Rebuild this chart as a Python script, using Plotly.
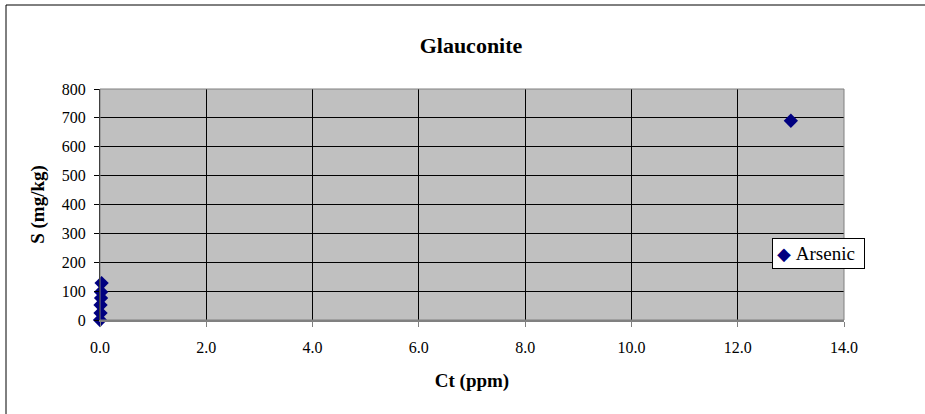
import plotly.graph_objects as go

ct_ppm = [0.0, 0.01, 0.01, 0.02, 0.02, 0.03, 13.0]
s_mgkg = [0, 24, 52, 76, 97, 128, 690]
series_name = "Arsenic"
x_ticks = [0, 2, 4, 6, 8, 10, 12, 14]
y_ticks = [0, 100, 200, 300, 400, 500, 600, 700, 800]

font = "Liberation Serif, Times New Roman, serif"
marker_color = "#000080"

fig = go.Figure()
fig.add_trace(go.Scatter(
    x=ct_ppm, y=s_mgkg, mode="markers", name=series_name, cliponaxis=False,
    marker=dict(symbol="diamond", size=11, color=marker_color),
))

PW, PH, L, T = 744, 231, 100, 89

fig.update_layout(
    width=925, height=414,
    margin=dict(l=L, r=925 - L - PW, t=T, b=414 - T - PH),
    paper_bgcolor="white", plot_bgcolor="#C0C0C0",
    font=dict(family=font, size=16, color="black"),
    title=dict(text="<b>Glauconite</b>", x=471/925, xanchor="center",
               y=1 - 45/414, yanchor="middle", font=dict(size=22)),
    showlegend=False,
    annotations=[dict(
        xref="paper", yref="paper", x=(772 - L)/PW, y=(T + PH - 238)/PH,
        xanchor="left", yanchor="top", showarrow=False,
        text=f"<span style='font-size:18px;color:{marker_color}'>◆</span>&nbsp;{series_name}&nbsp;",
        font=dict(size=19, family=font), align="left",
        bgcolor="white", bordercolor="black", borderwidth=1, borderpad=4,
    )],
    shapes=[
        dict(type="rect", xref="paper", yref="paper", x0=0, x1=1, y0=0, y1=1,
             line=dict(color="#808080", width=1), fillcolor="rgba(0,0,0,0)"),
        dict(type="rect", xref="paper", yref="paper",
             x0=(6 - L)/PW, x1=(935 - L)/PW, y0=-(424 - T - PH)/PH, y1=1 + (T - 5)/PH,
             line=dict(color="black", width=1), fillcolor="rgba(0,0,0,0)", layer="below"),
    ],
)

fig.update_xaxes(
    range=[0, 14], tickvals=x_ticks, ticktext=[f"{v:.1f}" for v in x_ticks],
    showgrid=True, gridcolor="black", gridwidth=1, zeroline=False,
    showline=True, linecolor="#808080", linewidth=2,
    ticks="outside", ticklen=5, tickcolor="#808080",
    tickfont=dict(size=16), ticklabelstandoff=7,
    title=dict(text="<b>Ct (ppm)</b>", font=dict(size=19), standoff=18),
)
fig.update_yaxes(
    range=[0, 800], tickvals=y_ticks,
    showgrid=True, gridcolor="black", gridwidth=1, zeroline=False,
    showline=True, linecolor="black", linewidth=1,
    ticks="outside", ticklen=5, tickcolor="black",
    tickfont=dict(size=16), ticklabelstandoff=5,
    title=dict(text="<b>S (mg/kg)</b>", font=dict(size=19), standoff=12),
)

fig.write_html("out.html", config={"displayModeBar": False},
               post_script="document.body.style.margin='0';")
